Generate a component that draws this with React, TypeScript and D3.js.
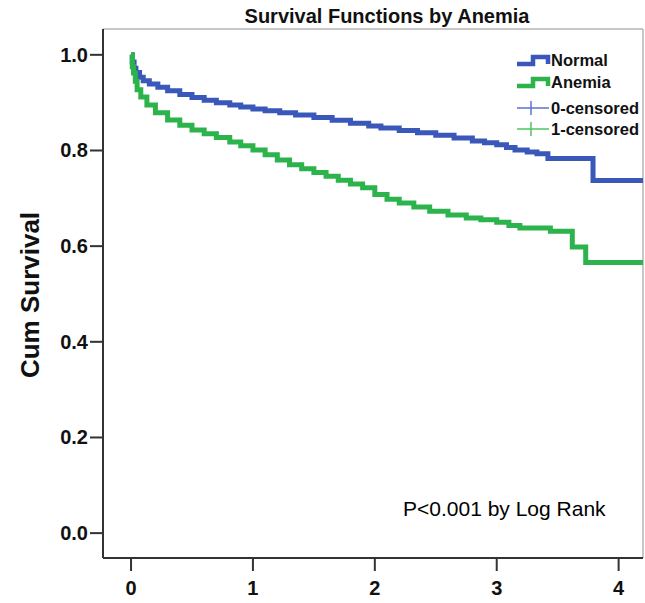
import React from 'react';
import * as d3 from "d3";

// Kaplan-Meier estimates (years, cumulative survival)
const normalTimes = [0, 0.01, 0.025, 0.04, 0.07, 0.1, 0.15, 0.22, 0.3, 0.4, 0.5, 0.6, 0.7, 0.81, 0.9, 1.0, 1.1, 1.22, 1.35, 1.5, 1.65, 1.8, 1.95, 2.05, 2.2, 2.35, 2.5, 2.65, 2.8, 2.9, 3.0, 3.08, 3.15, 3.25, 3.33, 3.42, 3.79];
const normalSurv = [1.0, 0.985, 0.972, 0.963, 0.953, 0.946, 0.939, 0.932, 0.925, 0.917, 0.911, 0.905, 0.9, 0.895, 0.891, 0.887, 0.883, 0.879, 0.874, 0.869, 0.863, 0.857, 0.851, 0.847, 0.842, 0.837, 0.832, 0.826, 0.82, 0.816, 0.812, 0.806, 0.801, 0.797, 0.793, 0.783, 0.737];

const anemiaTimes = [0, 0.01, 0.02, 0.035, 0.05, 0.08, 0.13, 0.2, 0.3, 0.4, 0.5, 0.6, 0.7, 0.81, 0.9, 1.0, 1.1, 1.2, 1.3, 1.4, 1.5, 1.6, 1.7, 1.8, 1.9, 2.0, 2.1, 2.2, 2.32, 2.45, 2.6, 2.75, 2.87, 3.0, 3.1, 3.19, 3.44, 3.62, 3.73];
const anemiaSurv = [1.0, 0.975, 0.962, 0.945, 0.927, 0.912, 0.895, 0.879, 0.864, 0.853, 0.843, 0.835, 0.827, 0.818, 0.81, 0.801, 0.791, 0.78, 0.77, 0.762, 0.754, 0.746, 0.738, 0.73, 0.722, 0.708, 0.698, 0.69, 0.682, 0.673, 0.665, 0.659, 0.655, 0.65, 0.643, 0.638, 0.631, 0.598, 0.566];

const xTicks = [0, 1, 2, 3, 4];
const yTicks = [0, 0.2, 0.4, 0.6, 0.8, 1.0];
const legendLabels = ["Normal", "Anemia", "0-censored", "1-censored"];

const font = "'Liberation Sans', Arial, Helvetica, sans-serif";

const App = () => {
    const width = 645,
        height = 603;
    const plot = { left: 103, right: 643, top: 29, bottom: 558 };

    const xScale = d3.scaleLinear().domain([-0.23, 4.2]).range([plot.left, plot.right]);
    const yScale = d3.scaleLinear().domain([-0.052, 1.054]).range([plot.bottom, plot.top]);

    const lineGenerator = d3.line<[number, number]>()
        .curve(d3.curveStepAfter)
        .x(d => xScale(d[0]))
        .y(d => yScale(d[1]));

    const toPoints = (times: number[], surv: number[]): [number, number][] => {
        const pts = times.map((t, i) => [t, surv[i]] as [number, number]);
        pts.push([4.2, surv[surv.length - 1]]);
        return pts;
    };

    const normalLine = lineGenerator(toPoints(normalTimes, normalSurv));
    const anemiaLine = lineGenerator(toPoints(anemiaTimes, anemiaSurv));

    const blue = "#3a57ba";
    const green = "#2db34b";
    const colors = [blue, green, "#5b72d4", "#4fc463"];

    return (
        <svg width={width} height={height} style={{ position: 'absolute', left: 0, top: 0, background: '#fff' }} fontFamily={font}>
            <text x={387} y={23} textAnchor="middle" fontSize={20} fontWeight="bold" fill="#111">Survival Functions by Anemia</text>

            {/* frame */}
            <line x1={plot.left} x2={plot.right} y1={plot.top} y2={plot.top} stroke="#b5b5b5" strokeWidth={1.5} />
            <line x1={plot.right} x2={plot.right} y1={plot.top} y2={plot.bottom} stroke="#b5b5b5" strokeWidth={1.5} />

            <g clipPath="url(#plot-clip)">
                <path d={normalLine ?? undefined} fill="none" stroke={blue} strokeWidth={5} />
                <path d={anemiaLine ?? undefined} fill="none" stroke={green} strokeWidth={5} />
            </g>
            <defs>
                <clipPath id="plot-clip">
                    <rect x={plot.left} y={plot.top} width={plot.right - plot.left} height={plot.bottom - plot.top} />
                </clipPath>
            </defs>

            {/* axes */}
            <line x1={plot.left} x2={plot.left} y1={plot.top} y2={plot.bottom} stroke="#333" strokeWidth={2} />
            <line x1={plot.left} x2={plot.right} y1={plot.bottom} y2={plot.bottom} stroke="#333" strokeWidth={2} />

            {yTicks.map(v => (
                <g key={v}>
                    <line x1={plot.left - 13} x2={plot.left} y1={yScale(v)} y2={yScale(v)} stroke="#333" strokeWidth={2} />
                    <text x={plot.left - 15} y={yScale(v) + 7} textAnchor="end" fontSize={20} fontWeight="bold" fill="#111">{v.toFixed(1)}</text>
                </g>
            ))}
            {xTicks.map(v => (
                <g key={v}>
                    <line x1={xScale(v)} x2={xScale(v)} y1={plot.bottom} y2={plot.bottom + 13} stroke="#333" strokeWidth={2} />
                    <text x={xScale(v)} y={plot.bottom + 37} textAnchor="middle" fontSize={20} fontWeight="bold" fill="#111">{v}</text>
                </g>
            ))}

            <text transform="translate(39,295) rotate(-90)" textAnchor="middle" fontSize={26} fontWeight="bold" fill="#111">Cum Survival</text>

            {/* legend */}
            {legendLabels.map((label, i) => {
                const cy = [60, 82, 108, 129][i];
                return (
                    <g key={label}>
                        {i < 2 ? (
                            <path d={`M517,${cy + 4}H533V${cy - 3}H548V${cy + 4}`} fill="none" stroke={colors[i]} strokeWidth={4.5} />
                        ) : (
                            <g stroke={colors[i]} strokeWidth={1.5}>
                                <line x1={517} x2={549} y1={cy} y2={cy} />
                                <line x1={531} x2={531} y1={cy - 7} y2={cy + 7} />
                            </g>
                        )}
                        <text x={551} y={cy + 6} fontSize={16.5} fontWeight="bold" fill="#111">{label}</text>
                    </g>
                );
            })}

            <text x={403} y={516} fontSize={21} fill="#000">P&lt;0.001 by Log Rank</text>
        </svg>
    );
};

export default App;
